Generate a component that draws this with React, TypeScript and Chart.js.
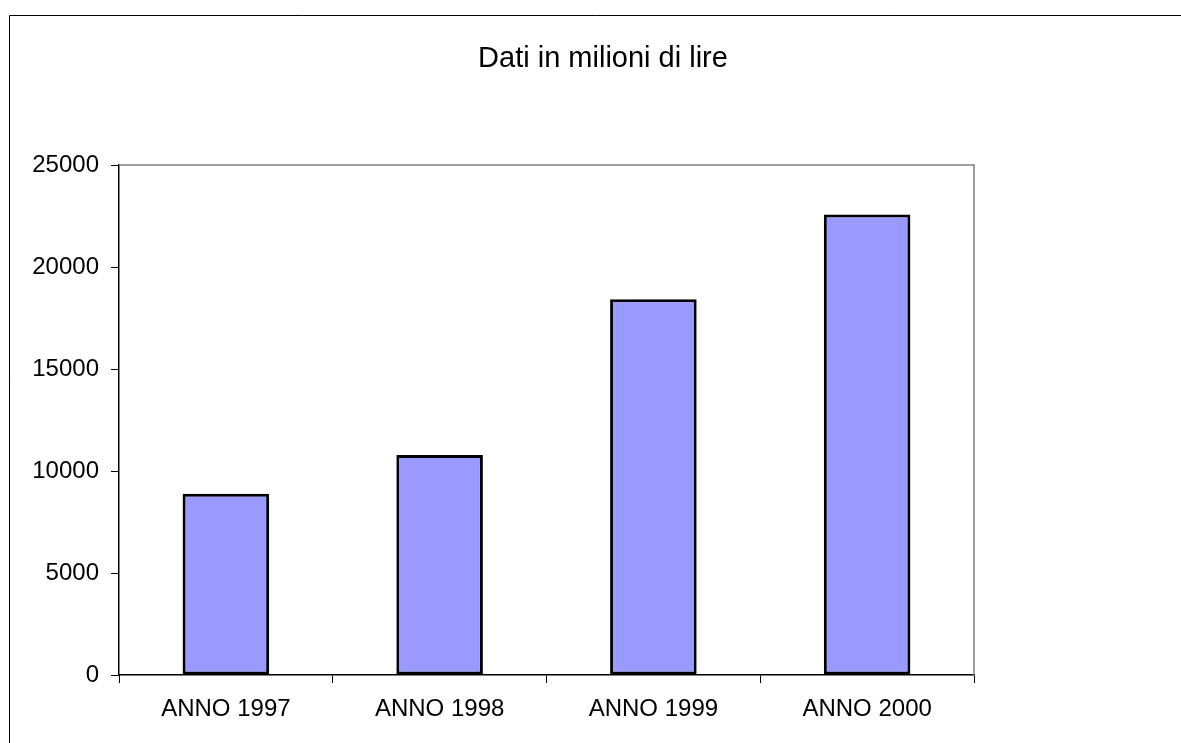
import React, { useEffect, useRef } from "react";
import { Chart, registerables } from "chart.js";

Chart.register(...registerables);

const categories = ["ANNO 1997", "ANNO 1998", "ANNO 1999", "ANNO 2000"];
const values = [8880, 10790, 18420, 22570];
const titleText = "Dati in milioni di lire";
const yMin = 0;
const yMax = 25000;
const yStep = 5000;

const FONT = "'Liberation Sans', Arial, sans-serif";

const framePlugin = {
  id: "frame",
  beforeDraw(chart: any) {
    const ctx = chart.ctx;
    ctx.save();
    ctx.fillStyle = "#ffffff";
    ctx.fillRect(0, 0, chart.width, chart.height);
    ctx.strokeStyle = "#000000";
    ctx.lineWidth = 1;
    ctx.beginPath();
    ctx.moveTo(9.5, chart.height);
    ctx.lineTo(9.5, 15.5);
    ctx.lineTo(chart.width, 15.5);
    ctx.stroke();
    ctx.font = `29px ${FONT}`;
    ctx.fillStyle = "#000000";
    ctx.textAlign = "center";
    ctx.textBaseline = "alphabetic";
    ctx.fillText(titleText, 603, 67);
    ctx.restore();
  },
  afterDatasetsDraw(chart: any) {
    const { ctx, chartArea } = chart;
    ctx.save();
    ctx.strokeStyle = "#808080";
    ctx.lineWidth = 1.5;
    ctx.beginPath();
    ctx.moveTo(chartArea.left, chartArea.top);
    ctx.lineTo(chartArea.right, chartArea.top);
    ctx.lineTo(chartArea.right, chartArea.bottom);
    ctx.stroke();
    ctx.restore();
  },
};

export default function App() {
  const ref = useRef<HTMLCanvasElement | null>(null);
  useEffect(() => {
    if (!ref.current) return;
    const chart = new Chart(ref.current, {
      type: "bar",
      data: {
        labels: categories,
        datasets: [
          {
            data: values,
            backgroundColor: "#9999FF",
            borderColor: "#000000",
            borderWidth: 3,
            borderSkipped: false,
            categoryPercentage: 1,
            barPercentage: 0.405,
          },
        ],
      },
      options: {
        responsive: false,
        animation: false,
        layout: { padding: { left: 0, top: 165, right: 207, bottom: 0 } },
        plugins: {
          legend: { display: false },
          title: { display: false },
          tooltip: { enabled: false },
        },
        scales: {
          x: {
            afterFit(scale: any) {
              scale.height = 68;
            },
            grid: {
              display: true,
              offset: true,
              drawOnChartArea: false,
              drawTicks: true,
              tickLength: 8,
              tickColor: "#000000",
            },
            border: { display: true, color: "#000000", width: 1.5 },
            ticks: {
              color: "#000000",
              font: { family: FONT, size: 24 },
              padding: 12,
              maxRotation: 0,
            },
          },
          y: {
            min: yMin,
            max: yMax,
            afterFit(scale: any) {
              scale.width = 119;
            },
            grid: {
              display: true,
              drawOnChartArea: false,
              drawTicks: true,
              tickLength: 8,
              tickColor: "#000000",
            },
            border: { display: true, color: "#000000", width: 1.5 },
            ticks: {
              stepSize: yStep,
              color: "#000000",
              font: { family: FONT, size: 24 },
              padding: 12,
              callback: (v: any) => String(v),
            },
          },
        },
      },
      plugins: [framePlugin],
    });
    return () => chart.destroy();
  }, []);
  return (
    <div style={{ position: "absolute", left: 0, top: 0, width: 1181, height: 743 }}>
      <canvas ref={ref} width={1181} height={743} style={{ display: "block" }} />
    </div>
  );
}
